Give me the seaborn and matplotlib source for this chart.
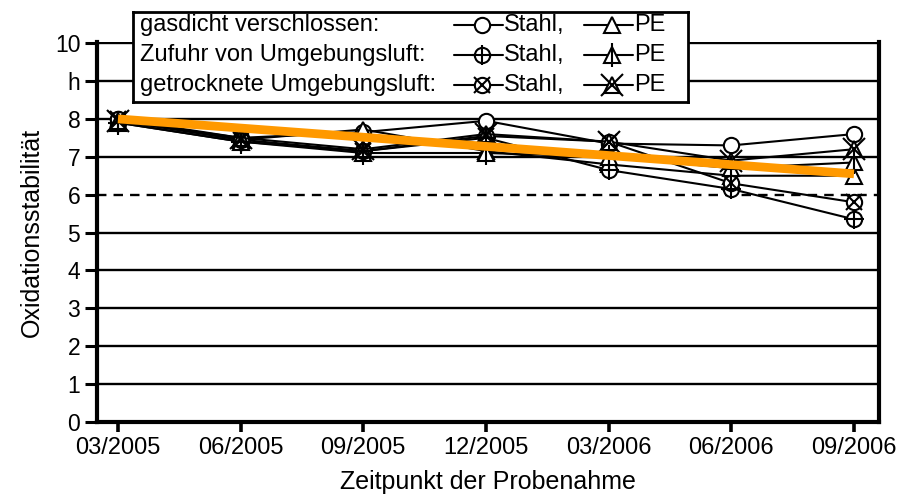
import numpy as np
import matplotlib
matplotlib.use("Agg")
import matplotlib.pyplot as plt
import seaborn as sns

# ---------------- data ----------------
dates = ["03/2005", "06/2005", "09/2005", "12/2005", "03/2006", "06/2006", "09/2006"]
gasdicht_stahl = [8.0, 7.5, 7.65, 7.95, 7.35, 7.3, 7.6]
gasdicht_pe = [7.95, 7.45, 7.72, 7.15, 6.8, 6.5, 6.5]
zufuhr_stahl = [7.9, 7.4, 7.15, 7.5, 6.65, 6.15, 5.35]
zufuhr_pe = [7.9, 7.4, 7.1, 7.1, 7.0, 6.7, 6.85]
getrocknet_stahl = [8.0, 7.45, 7.15, 7.55, 7.4, 6.3, 5.8]
getrocknet_pe = [7.95, 7.5, 7.2, 7.6, 7.4, 6.9, 7.2]
trend_dates = [0, 6]
trend_values = [8.0, 6.55]
ytick_values = [0, 1, 2, 3, 4, 5, 6, 7, 8, 9, 10]
ytick_labels = ["0", "1", "2", "3", "4", "5", "6", "7", "8", "h", "10"]
row_labels = ["gasdicht verschlossen:", "Zufuhr von Umgebungsluft:", "getrocknete Umgebungsluft:"]

sns.set_style("white")
plt.rcParams["font.family"] = ["Liberation Sans", "DejaVu Sans"]

W, H = 920, 495
fig = plt.figure(figsize=(W / 100, H / 100), dpi=100)
ax = fig.add_axes([97 / W, 1 - 422 / H, (879 - 97) / W, (422 - 42) / H])

x = np.arange(len(dates))
MS = 11
MEW = 1.5
LW = 1.5

# (values, base marker, overlay marker, overlay size factor)
series = [
    (gasdicht_stahl, "o", None, 1.0),
    (gasdicht_pe, "^", None, 1.0),
    (zufuhr_stahl, "o", "+", 1.35),
    (zufuhr_pe, "^", "|", 1.6),
    (getrocknet_stahl, "o", "x", 1.1),
    (getrocknet_pe, "^", "x", 1.4),
]

for vals, m, ov, f in series:
    sns.lineplot(x=x, y=vals, ax=ax, color="black", lw=LW, marker=m,
                 markersize=MS, markerfacecolor="white", markeredgecolor="black",
                 markeredgewidth=MEW, zorder=3)
    if ov is not None:
        sns.lineplot(x=x, y=vals, ax=ax, color="black", lw=0, marker=ov,
                     markersize=MS * f, markeredgecolor="black",
                     markeredgewidth=MEW, zorder=4)

sns.lineplot(x=trend_dates, y=trend_values, ax=ax, color="#FF9900", lw=6.3,
             zorder=6, solid_capstyle="butt")

ax.set_xlim(-0.171, 6.204)
ax.set_ylim(0, 10.03)
ax.set_yticks(ytick_values)
ax.set_yticklabels(ytick_labels)
ax.set_xticks(x)
ax.set_xticklabels(dates)

for yv in ytick_values[1:]:
    ax.axhline(yv, color="black", lw=1.7, ls=(0, (4, 3)) if yv == 6 else "-", zorder=1)

for s in ["left", "bottom", "right"]:
    ax.spines[s].set_visible(True)
    ax.spines[s].set_color("black")
    ax.spines[s].set_linewidth(3)
ax.spines["top"].set_visible(False)

ax.tick_params(axis="y", which="major", direction="out", length=9, width=2.2,
               color="black", labelsize=16.5, labelcolor="black", pad=3, left=True)
ax.tick_params(axis="x", which="major", direction="out", length=7, width=2.6,
               color="black", labelsize=17, labelcolor="black", pad=4, bottom=True)
ax.set_ylabel("Oxidationsstabilität", fontsize=18, color="black", labelpad=8)
ax.set_xlabel("Zeitpunkt der Probenahme", fontsize=18, color="black", labelpad=8)

# ---------------- legend box ----------------
lx0, ly0, lx1, ly1 = 133, 12, 688, 102
lax = fig.add_axes([lx0 / W, 1 - ly1 / H, (lx1 - lx0) / W, (ly1 - ly0) / H], zorder=10)
lax.set_xlim(0, lx1 - lx0)
lax.set_ylim(ly1 - ly0, 0)
lax.set_xticks([])
lax.set_yticks([])
lax.set_facecolor("white")
for s in lax.spines.values():
    s.set_visible(True)
    s.set_color("black")
    s.set_linewidth(2)

rows_y = [13, 43, 73]
for i, (lab, yy) in enumerate(zip(row_labels, rows_y)):
    lax.text(7, yy, lab, fontsize=17, va="center", ha="left", color="black")
    for j, (xc, txt) in enumerate([(349, "Stahl,"), (479, "PE")]):
        vals, m, ov, f = series[2 * i + j]
        lax.plot([xc - 28, xc + 21], [yy, yy], color="black", lw=LW)
        lax.plot([xc], [yy], marker=m, markersize=MS, markerfacecolor="white",
                 markeredgecolor="black", markeredgewidth=MEW, color="black")
        if ov is not None:
            lax.plot([xc], [yy], marker=ov, markersize=MS * f, markeredgecolor="black",
                     markeredgewidth=MEW, color="black", lw=0)
        lax.text(xc + 22, yy, txt, fontsize=17, va="center", ha="left", color="black")

fig.savefig("out.png", dpi=100, facecolor="white")
